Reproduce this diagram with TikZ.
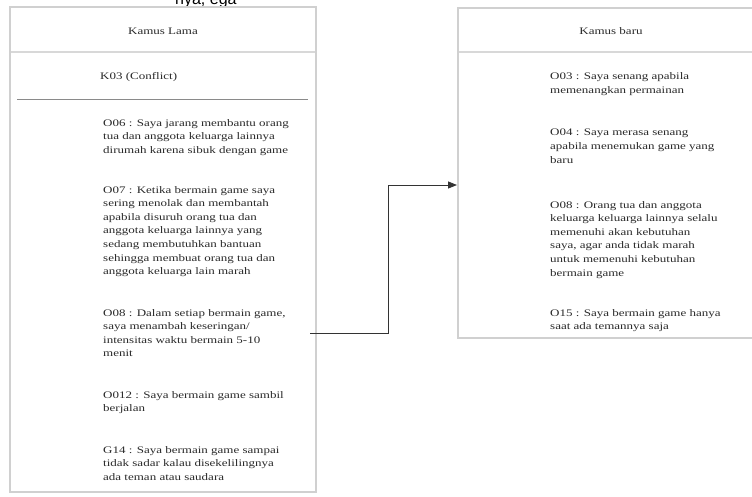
\documentclass[tikz,border=0pt]{standalone}
\usepackage{fontspec}
\setmainfont{Liberation Serif}[FakeStretch=1.3]
\newfontfamily\arialfont{Liberation Sans}
\usetikzlibrary{arrows.meta}
\definecolor{boxline}{HTML}{D0D0D0}
\definecolor{sepline}{HTML}{D8D8D8}
\definecolor{darksep}{HTML}{8A8A8A}
\definecolor{txt}{HTML}{2A2A2A}
\tikzset{
  panel/.style={draw=boxline, line width=1.4pt, fill=white},
  headsep/.style={draw=sepline, line width=1.6pt},
  itemsep/.style={draw=darksep, line width=0.9pt},
  item/.style={anchor=north west, inner sep=0pt, align=left, text=txt,
    font=\fontsize{10}{13.6}\selectfont},
  head/.style={anchor=base, inner sep=0pt, text=txt, font=\fontsize{10}{13.6}\selectfont},
  link/.style={draw=black!80, line width=0.9pt, -{Triangle[length=9pt,width=7pt]}}
}
\begin{document}
\begin{tikzpicture}[x=1pt,y=-1pt]
\useasboundingbox (0,0) rectangle (752,496);
\fill[white] (0,0) rectangle (752,496);
\begin{scope}
\clip (0,0) rectangle (752,496);
% fragment of page text above
\node[anchor=base west, inner sep=0pt, font=\arialfont\fontsize{16}{16}\selectfont] (frag) at (175,4) {nya, ega};
% left panel
\draw[panel] (10,7) rectangle (316,492);
\coordinate (lbox) at (316,250);
\draw[headsep] (11,52) -- (315,52);
\node[head] (lhead) at (163,34.5) {Kamus Lama};
\node[item] (k03) at (100,72) {K03 (Conflict)};
\draw[itemsep] (17,99) -- (308,99);
\node[item] (o06) at (103,119) {O06 : Saya jarang membantu orang\\tua dan anggota keluarga lainnya\\dirumah karena sibuk dengan game};
\node[item] (o07) at (103,186) {O07 : Ketika bermain game saya\\sering menolak dan membantah\\apabila disuruh orang tua dan\\anggota keluarga lainnya yang\\sedang membutuhkan bantuan\\sehingga membuat orang tua dan\\anggota keluarga lain marah};
\node[item] (o08l) at (103,309) {O08 : Dalam setiap bermain game,\\saya menambah keseringan/\\intensitas waktu bermain 5-10\\menit};
\node[item] (o012) at (103,391) {O012 : Saya bermain game sambil\\berjalan};
\node[item] (g14) at (103,446) {G14 : Saya bermain game sampai\\tidak sadar kalau disekelilingnya\\ada teman atau saudara};
% right panel
\draw[panel] (458,8) rectangle (760,338);
\draw[headsep] (459,52) -- (752,52);
\node[head] (rhead) at (611,34) {Kamus baru};
\node[item] (o03) at (550,72.5) {O03 : Saya senang apabila\\memenangkan permainan};
\node[item] (o04) at (550,129) {O04 : Saya merasa senang\\apabila menemukan game yang\\baru};
\node[item] (o08r) at (550,201) {O08 : Orang tua dan anggota\\keluarga keluarga lainnya selalu\\memenuhi akan kebutuhan\\saya, agar anda tidak marah\\untuk memenuhi kebutuhan\\bermain game};
\node[item] (o15) at (550,309) {O15 : Saya bermain game hanya\\saat ada temannya saja};
% connector
\coordinate (start) at (310,333);
\coordinate (bend) at (388,333);
\coordinate (finish) at (457,185);
\draw[link] (start) -- (bend) |- (finish);
\end{scope}
\end{tikzpicture}
\end{document}
